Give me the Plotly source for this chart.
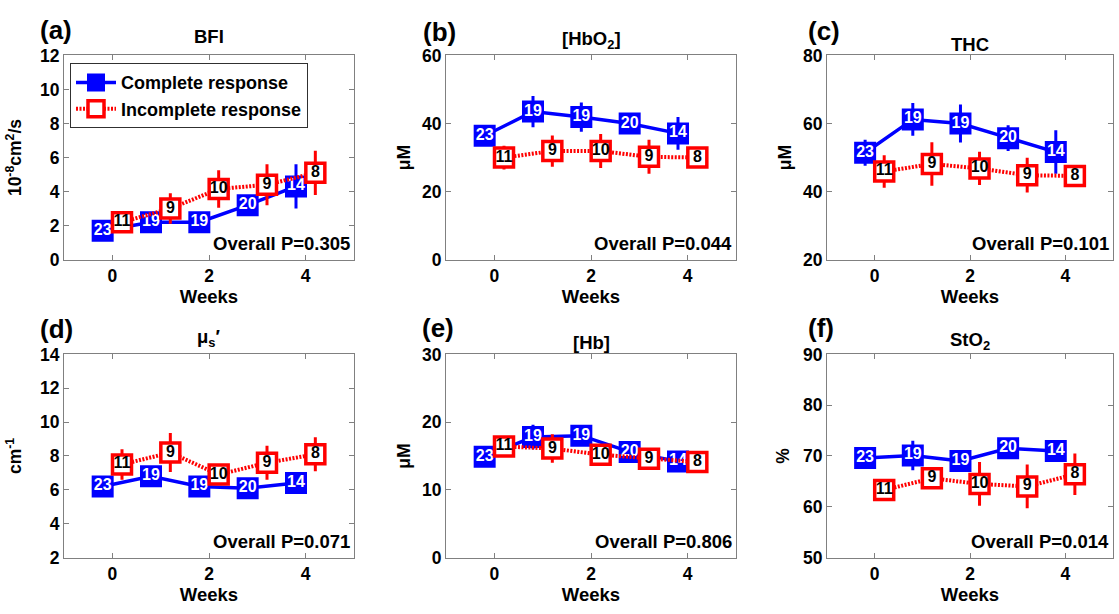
import plotly.graph_objects as go
from plotly.subplots import make_subplots

W, H = 1119, 614

weeks = [0, 1, 2, 3, 4]
n_complete = [23, 19, 19, 20, 14]
n_incomplete = [11, 9, 10, 9, 8]

panel_letters = ["(a)", "(b)", "(c)", "(d)", "(e)", "(f)"]
panel_titles = ["BFI", "[HbO<sub>2</sub>]", "THC", "μ<sub>s</sub>′", "[Hb]", "StO<sub>2</sub>"]
y_titles = ["10<sup>-8</sup>cm<sup>2</sup>/s", "μM", "μM", "cm<sup>-1</sup>", "μM", "%"]
y_ranges = [[0, 12], [0, 60], [20, 80], [2, 14], [0, 30], [50, 90]]
y_dticks = [2, 20, 20, 2, 10, 10]
p_values = ["0.305", "0.044", "0.101", "0.071", "0.806", "0.014"]

# (a) BFI
bfi_complete = [1.7, 2.2, 2.2, 3.2, 4.3]
bfi_complete_err = [0.3, 0.4, 0.5, 0.4, 1.3]
bfi_incomplete = [2.2, 3.0, 4.15, 4.4, 5.1]
bfi_incomplete_err = [0.3, 0.9, 1.1, 1.2, 1.3]
# (b) HbO2
hbo2_complete = [36.4, 43.5, 41.9, 40.0, 37.1]
hbo2_complete_err = [1.5, 4.6, 4.3, 2.0, 4.8]
hbo2_incomplete = [30.0, 31.9, 31.9, 30.2, 30.0]
hbo2_incomplete_err = [3.5, 4.6, 5.0, 5.0, 3.0]
# (c) THC
thc_complete = [51.4, 61.2, 60.0, 55.7, 51.6]
thc_complete_err = [3.8, 4.8, 5.6, 3.8, 6.4]
thc_incomplete = [45.9, 48.1, 46.8, 44.8, 44.6]
thc_incomplete_err = [4.8, 6.4, 4.9, 5.1, 2.5]
# (d) mus'
mus_complete = [6.2, 6.8, 6.2, 6.1, 6.4]
mus_complete_err = [0.3, 0.4, 0.3, 0.3, 0.3]
mus_incomplete = [7.5, 8.2, 6.9, 7.6, 8.1]
mus_incomplete_err = [0.9, 1.15, 0.3, 1.0, 1.0]
# (e) Hb
hb_complete = [14.9, 17.8, 18.0, 15.6, 14.2]
hb_complete_err = [0.8, 1.8, 1.5, 0.8, 1.3]
hb_incomplete = [16.4, 16.1, 15.2, 14.6, 14.1]
hb_incomplete_err = [1.0, 2.1, 0.8, 0.8, 0.8]
# (f) StO2
sto2_complete = [69.6, 70.1, 69.0, 71.5, 71.0]
sto2_complete_err = [0.8, 2.9, 0.8, 1.0, 1.0]
sto2_incomplete = [63.3, 65.6, 64.5, 64.0, 66.4]
sto2_incomplete_err = [1.5, 1.3, 4.3, 4.3, 4.1]

complete_vals = [bfi_complete, hbo2_complete, thc_complete, mus_complete, hb_complete, sto2_complete]
complete_errs = [bfi_complete_err, hbo2_complete_err, thc_complete_err, mus_complete_err, hb_complete_err, sto2_complete_err]
incomplete_vals = [bfi_incomplete, hbo2_incomplete, thc_incomplete, mus_incomplete, hb_incomplete, sto2_incomplete]
incomplete_errs = [bfi_incomplete_err, hbo2_incomplete_err, thc_incomplete_err, mus_incomplete_err, hb_incomplete_err, sto2_incomplete_err]

BLUE = "#0000ff"
RED = "#ff0000"
GRAY = "#808080"
FONT = "Liberation Sans, Arial, sans-serif"

col_px = [(64, 354), (446, 736), (827, 1113)]
row_px = [(47, 258), (356, 566)]
letter_pos = [(38, 21), (421, 23), (806, 22), (38, 330), (420, 329), (806, 329)]
title_pos = [27, 31, 36, 339, 344, 342]
ytitle_standoff = [13, 6, 6, 13, 6, 8]

fig = make_subplots(rows=2, cols=3)

x_complete = [w - 0.2 for w in weeks]
x_incomplete = [w + 0.2 for w in weeks]

for i in range(6):
    r, c = i // 3 + 1, i % 3 + 1
    first = i == 0
    fig.add_trace(go.Scatter(
        x=x_complete, y=complete_vals[i], mode="lines+markers", name="Complete response",
        line=dict(color=BLUE, width=3.5),
        marker=dict(symbol="square", size=20, color=BLUE, line=dict(color=BLUE, width=2)),
        error_y=dict(type="data", array=complete_errs[i], color=BLUE, thickness=3, width=0),
        showlegend=first, legendrank=1), row=r, col=c)
    fig.add_trace(go.Scatter(
        x=x_complete, y=complete_vals[i], mode="text", text=[str(v) for v in n_complete],
        textposition="middle center",
        textfont=dict(family=FONT, size=16, color="white", weight="bold"),
        showlegend=False, hoverinfo="skip"), row=r, col=c)
    fig.add_trace(go.Scatter(
        x=x_incomplete, y=incomplete_vals[i], mode="lines+markers", name="Incomplete response",
        line=dict(color=RED, width=4, dash="2px,1.5px"),
        marker=dict(symbol="square", size=19, color="white", line=dict(color=RED, width=3.5)),
        error_y=dict(type="data", array=incomplete_errs[i], color=RED, thickness=3, width=0),
        showlegend=first, legendrank=2), row=r, col=c)
    fig.add_trace(go.Scatter(
        x=x_incomplete, y=incomplete_vals[i], mode="text", text=[str(v) for v in n_incomplete],
        textposition="middle center",
        textfont=dict(family=FONT, size=16, color="black", weight="bold"),
        showlegend=False, hoverinfo="skip"), row=r, col=c)

    xl, xr = col_px[c - 1]
    yt, yb = row_px[r - 1]
    sfx = "" if i == 0 else str(i + 1)
    fig.layout["xaxis" + sfx].update(
        domain=[xl / W, xr / W], range=[-1, 5], tickvals=[0, 2, 4],
        ticks="inside", ticklen=5, tickcolor=GRAY, showline=True, linecolor=GRAY, linewidth=1,
        mirror="ticks", showgrid=False, zeroline=False,
        tickfont=dict(family=FONT, size=17.5, color="black", weight="bold"),
        title=dict(text="Weeks", standoff=3, font=dict(family=FONT, size=18.5, color="black", weight="bold")))
    fig.layout["yaxis" + sfx].update(
        domain=[1 - yb / H, 1 - yt / H], range=y_ranges[i], dtick=y_dticks[i],
        ticks="inside", ticklen=5, tickcolor=GRAY, showline=True, linecolor=GRAY, linewidth=1,
        mirror="ticks", showgrid=False, zeroline=False,
        tickfont=dict(family=FONT, size=17.5, color="black", weight="bold"),
        title=dict(text=y_titles[i], standoff=ytitle_standoff[i],
                   font=dict(family=FONT, size=17.5, color="black", weight="bold")))

    # panel letter
    lx, ly = letter_pos[i]
    fig.add_annotation(x=lx / W, y=1 - ly / H, xref="paper", yref="paper", xanchor="left", yanchor="middle",
                       text=panel_letters[i], showarrow=False,
                       font=dict(family=FONT, size=26, color="black", weight="bold"))
    # title
    fig.add_annotation(x=(xl + xr) / 2 / W, y=1 - title_pos[i] / H, xref="paper", yref="paper",
                       xanchor="center", yanchor="middle", text=panel_titles[i], showarrow=False,
                       font=dict(family=FONT, size=18.5, color="black", weight="bold"))
    # p-value
    fig.add_annotation(x=1, y=0, xref="x" + sfx + " domain", yref="y" + sfx + " domain",
                       xanchor="right", yanchor="bottom", xshift=-2, yshift=4,
                       text="Overall P=" + p_values[i], showarrow=False,
                       font=dict(family=FONT, size=18.5, color="black", weight="bold"))

fig.update_layout(
    width=W, height=H, autosize=False,
    margin=dict(l=0, r=0, t=0, b=0),
    paper_bgcolor="white", plot_bgcolor="white",
    legend=dict(x=70 / W, y=1 - 55 / H, xanchor="left", yanchor="top",
                bgcolor="white", bordercolor="#303030", borderwidth=1,
                font=dict(family=FONT, size=18, color="black", weight="bold"),
                itemwidth=40, tracegroupgap=0),
)

fig.write_html("out.html", config={"displayModeBar": False},
               post_script="document.body.style.margin='0px';document.body.style.overflow='hidden';")
